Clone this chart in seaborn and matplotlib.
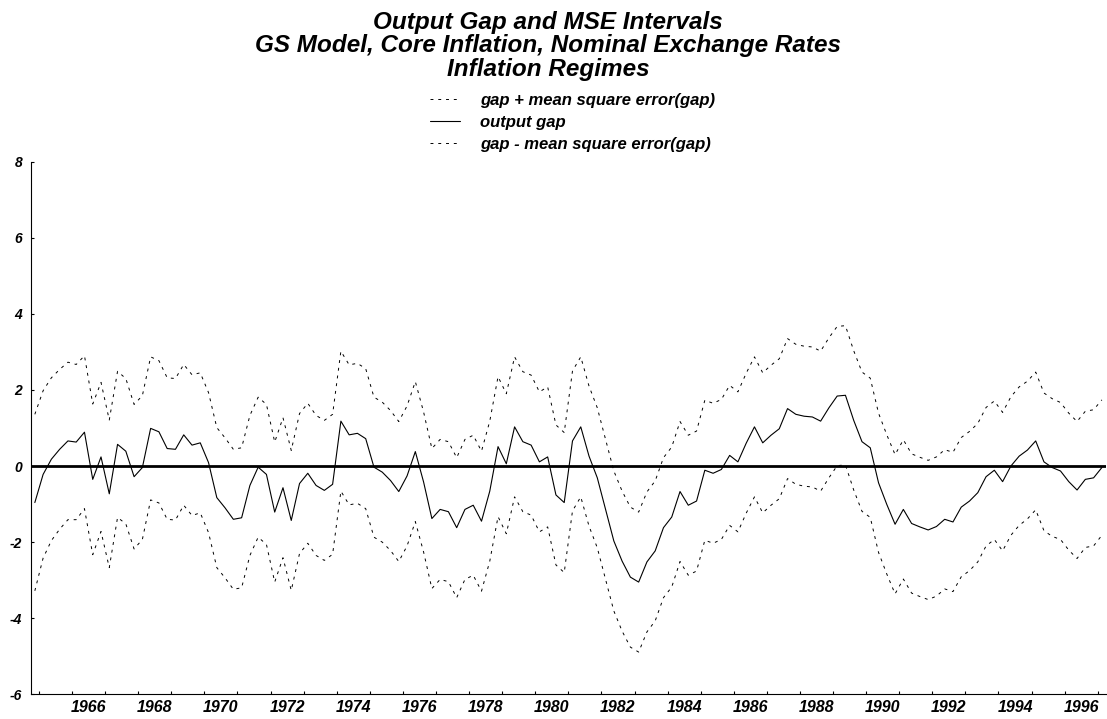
import numpy as np
import pandas as pd
import matplotlib
matplotlib.use("Agg")
import matplotlib.pyplot as plt
from matplotlib.ticker import FixedLocator, NullFormatter, FixedFormatter
import seaborn as sns

# ---------------- data ----------------
start_quarter = "1964Q4"
output_gap = [
    -0.96, -0.22, 0.18, 0.44, 0.66, 0.63, 0.89, -0.35, 0.24, -0.73,
    0.57, 0.39, -0.28, -0.04, 0.99, 0.90, 0.46, 0.44, 0.82, 0.55,
    0.61, 0.09, -0.83, -1.10, -1.40, -1.36, -0.51, -0.03, -0.22, -1.21,
    -0.57, -1.43, -0.46, -0.19, -0.51, -0.64, -0.48, 1.18, 0.82, 0.86,
    0.72, -0.03, -0.16, -0.38, -0.67, -0.26, 0.38, -0.42, -1.38, -1.14,
    -1.20, -1.62, -1.14, -1.03, -1.45, -0.66, 0.51, 0.06, 1.03, 0.64,
    0.55, 0.11, 0.24, -0.76, -0.96, 0.66, 1.03, 0.26, -0.31, -1.14,
    -1.97, -2.50, -2.92, -3.05, -2.52, -2.23, -1.62, -1.34, -0.67, -1.03,
    -0.92, -0.11, -0.19, -0.09, 0.28, 0.11, 0.60, 1.03, 0.61, 0.81,
    0.98, 1.51, 1.36, 1.31, 1.29, 1.18, 1.53, 1.84, 1.86, 1.20,
    0.64, 0.48, -0.44, -1.01, -1.53, -1.14, -1.51, -1.60, -1.68, -1.59,
    -1.40, -1.47, -1.08, -0.92, -0.70, -0.28, -0.11, -0.41, 0.00, 0.26,
    0.42, 0.66, 0.11, -0.04, -0.13, -0.41, -0.63, -0.35, -0.31, -0.04,
]
mse_gap = [
    2.32, 2.20, 2.14, 2.10, 2.07, 2.04, 2.01, 1.98, 1.96, 1.94,
    1.92, 1.91, 1.90, 1.89, 1.88, 1.87, 1.86, 1.86, 1.85, 1.85,
    1.84, 1.84, 1.84, 1.84, 1.84, 1.84, 1.84, 1.84, 1.84, 1.84,
    1.84, 1.84, 1.84, 1.84, 1.84, 1.84, 1.84, 1.84, 1.84, 1.84,
    1.84, 1.84, 1.84, 1.84, 1.84, 1.84, 1.84, 1.84, 1.84, 1.84,
    1.84, 1.84, 1.84, 1.84, 1.84, 1.84, 1.84, 1.84, 1.84, 1.84,
    1.84, 1.84, 1.84, 1.84, 1.84, 1.84, 1.84, 1.84, 1.84, 1.84,
    1.84, 1.84, 1.84, 1.84, 1.84, 1.84, 1.84, 1.84, 1.84, 1.84,
    1.84, 1.84, 1.84, 1.84, 1.84, 1.84, 1.84, 1.84, 1.84, 1.84,
    1.84, 1.84, 1.84, 1.84, 1.84, 1.84, 1.84, 1.83, 1.83, 1.83,
    1.83, 1.83, 1.83, 1.83, 1.83, 1.83, 1.83, 1.83, 1.83, 1.83,
    1.83, 1.83, 1.83, 1.83, 1.82, 1.82, 1.82, 1.82, 1.82, 1.82,
    1.81, 1.81, 1.81, 1.81, 1.80, 1.80, 1.80, 1.79, 1.79, 1.78,
]
year_labels = [str(y) for y in range(1966, 1997, 2)]
y_ticks = [-6, -4, -2, 0, 2, 4, 6, 8]

title_lines = ["Output Gap and MSE Intervals",
               "GS Model, Core Inflation, Nominal Exchange Rates",
               "Inflation Regimes"]
label_upper = "gap + mean square error(gap)"
label_gap = "output gap"
label_lower = "gap - mean square error(gap)"

# ---------------- build frame ----------------
periods = pd.period_range(start_quarter, periods=len(output_gap), freq="Q")
t = periods.year + (periods.quarter - 1) / 4.0 + 0.125  # mid-quarter
gap = np.array(output_gap)
mse = np.array(mse_gap)
df = pd.DataFrame({"t": t, "gap": gap, "upper": gap + mse, "lower": gap - mse})

# ---------------- style ----------------
sns.set_style("white")
plt.rcParams["font.family"] = ["Liberation Sans", "DejaVu Sans"]
plt.rcParams["text.color"] = "black"
plt.rcParams["axes.labelcolor"] = "black"
plt.rcParams["xtick.color"] = "black"
plt.rcParams["ytick.color"] = "black"

W, H = 1107, 719
fig = plt.figure(figsize=(W / 100, H / 100), dpi=100)
ax = fig.add_axes([30.7 / W, 24.7 / H, (1106 - 30.7) / W, (694.3 - 161.7) / H])

dash = (0, (3, 5))
sns.lineplot(data=df, x="t", y="upper", ax=ax, color="black", linewidth=0.7,
             linestyle=dash, label=label_upper)
sns.lineplot(data=df, x="t", y="gap", ax=ax, color="black", linewidth=0.8,
             label=label_gap)
sns.lineplot(data=df, x="t", y="lower", ax=ax, color="black", linewidth=0.7,
             linestyle=dash, label=label_lower)
ax.axhline(0, color="black", linewidth=2.0, zorder=1)

ax.set_xlim(1964.75, 1997.25)
ax.set_ylim(-6, 8)
ax.set_xlabel("")
ax.set_ylabel("")

for s in ["top", "right"]:
    ax.spines[s].set_visible(False)
for s in ["left", "bottom"]:
    ax.spines[s].set_linewidth(0.8)
    ax.spines[s].set_color("black")

# x axis: year-start ticks, labels centred in the year
ax.xaxis.set_major_locator(FixedLocator(np.arange(1965, 1998)))
ax.xaxis.set_major_formatter(NullFormatter())
ax.xaxis.set_minor_locator(FixedLocator([int(y) + 0.5 for y in year_labels]))
ax.xaxis.set_minor_formatter(FixedFormatter(year_labels))
ax.tick_params(axis="x", which="major", direction="in", length=2.5, width=0.8,
               color="black", bottom=True)
ax.tick_params(axis="x", which="minor", length=0, pad=4,
               labelsize=11.5, labelcolor="black", bottom=True)
for lab in ax.xaxis.get_minorticklabels():
    lab.set_fontweight("bold")
    lab.set_fontstyle("italic")

ax.set_yticks(y_ticks)
ax.set_yticklabels([str(v) for v in y_ticks])
ax.tick_params(axis="y", direction="in", length=2, width=0.8, color="black",
               pad=6, labelsize=10, labelcolor="black", left=True)
for lab in ax.get_yticklabels():
    lab.set_fontweight("bold")
    lab.set_fontstyle("italic")

ax.get_legend().remove()
ax.grid(False)

for line, base in zip(title_lines, [28.5, 52.3, 75.8]):
    fig.text(548 / W, 1 - base / H, line, ha="center", va="baseline",
             fontsize=17.5, fontweight="bold", fontstyle="italic",
             color="black")

handles = ax.get_lines()[:3]
leg = fig.legend(handles=handles, labels=[label_upper, label_gap, label_lower],
                 loc="upper left", bbox_to_anchor=(430 / W, 1 - 93 / H),
                 frameon=False, borderpad=0, borderaxespad=0,
                 handlelength=1.8, handletextpad=1.2, labelspacing=0.42,
                 prop={"size": 12, "weight": "bold", "style": "italic"})
for txt in leg.get_texts():
    txt.set_color("black")

fig.savefig("out.png", dpi=100)
